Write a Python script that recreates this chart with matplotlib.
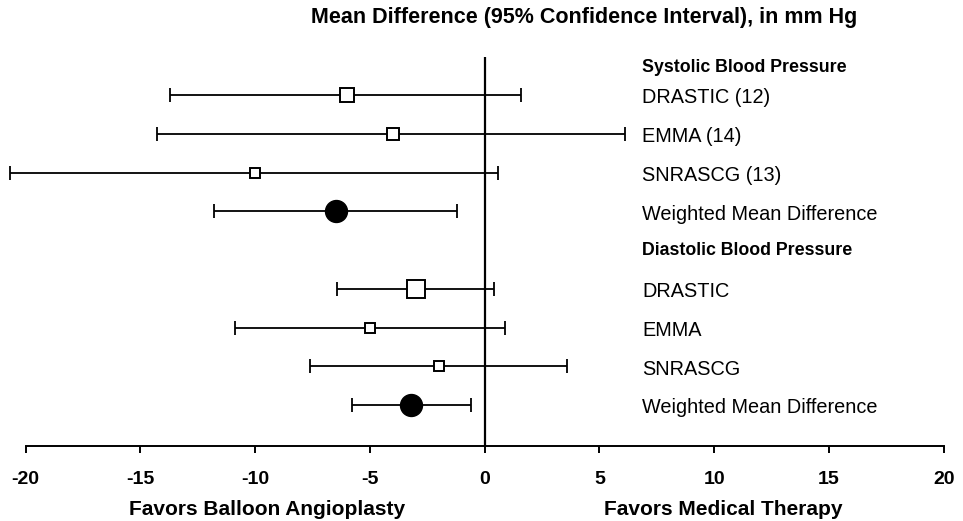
import matplotlib
matplotlib.use('Agg')
import matplotlib.pyplot as plt

plt.rcParams['font.family'] = ['Liberation Sans', 'DejaVu Sans']

# systolic then diastolic rows
sys_labels = ['DRASTIC (12)', 'EMMA (14)', 'SNRASCG (13)', 'Weighted Mean Difference']
sys_mean = [-6.0, -4.0, -10.0, -6.5]
sys_low = [-13.7, -14.3, -20.7, -11.8]
sys_high = [1.6, 6.1, 0.6, -1.2]

dia_labels = ['DRASTIC', 'EMMA', 'SNRASCG', 'Weighted Mean Difference']
dia_mean = [-3.0, -5.0, -2.0, -3.2]
dia_low = [-6.45, -10.9, -7.6, -5.8]
dia_high = [0.4, 0.9, 3.6, -0.6]

# marker sizes (study weight) in points
sys_sizes = [10.6, 8.6, 7.7, 15.8]
dia_sizes = [12.5, 7.2, 7.2, 15.8]

xticks = [-20, -15, -10, -5, 0, 5, 10, 15, 20]

fig = plt.figure(figsize=(9.63, 5.21), dpi=100)
ax = fig.add_axes([0.0267, 0.144, 0.9533, 0.7466])


def draw_group(rows, means, lows, highs, sizes, labels):
    for y, m, lo, hi, s, lab in zip(rows, means, lows, highs, sizes, labels):
        ax.errorbar(m, y, xerr=[[m - lo], [hi - m]], fmt='none', ecolor='black',
                    elinewidth=1.3, capsize=4.7, capthick=1.3, clip_on=False, zorder=2)
        if lab.startswith('Weighted'):
            ax.plot(m, y, 'o', ms=s, mfc='black', mec='black', zorder=3, clip_on=False)
        else:
            ax.plot(m, y, 's', ms=s, mfc='white', mec='black', mew=1.4, zorder=3, clip_on=False)
        # labels sit a touch below the bar line
        ax.text(6.85, y + 0.07, lab, fontsize=14.3, va='center', ha='left')


draw_group([0, 1, 2, 3], sys_mean, sys_low, sys_high, sys_sizes, sys_labels)
draw_group([5, 6, 7, 8], dia_mean, dia_low, dia_high, dia_sizes, dia_labels)

ax.text(6.85, -0.72, 'Systolic Blood Pressure', fontsize=12.8, fontweight='bold', va='center')
ax.text(6.85, 4.02, 'Diastolic Blood Pressure', fontsize=12.8, fontweight='bold', va='center')

ax.axvline(0, color='black', lw=1.6, zorder=1)

ax.set_xlim(-20, 20)
ax.set_ylim(9.05, -0.98)
ax.set_xticks(xticks)
ax.set_xticklabels([str(t) for t in xticks], fontsize=14, fontweight='bold')
ax.set_yticks([])
for side in ['left', 'right', 'top']:
    ax.spines[side].set_visible(False)
ax.spines['bottom'].set_linewidth(1.4)
ax.tick_params(axis='x', direction='out', length=5, width=1.4, pad=13)

ax.text(4.32, -2.01, 'Mean Difference (95% Confidence Interval), in mm Hg', fontsize=15.5,
        fontweight='bold', ha='center', va='center', clip_on=False)
ax.text(-9.47, 10.7, 'Favors Balloon Angioplasty', fontsize=15, fontweight='bold',
        ha='center', va='center', clip_on=False)
ax.text(10.4, 10.7, 'Favors Medical Therapy', fontsize=15, fontweight='bold',
        ha='center', va='center', clip_on=False)

fig.savefig('out.png', dpi=100)
